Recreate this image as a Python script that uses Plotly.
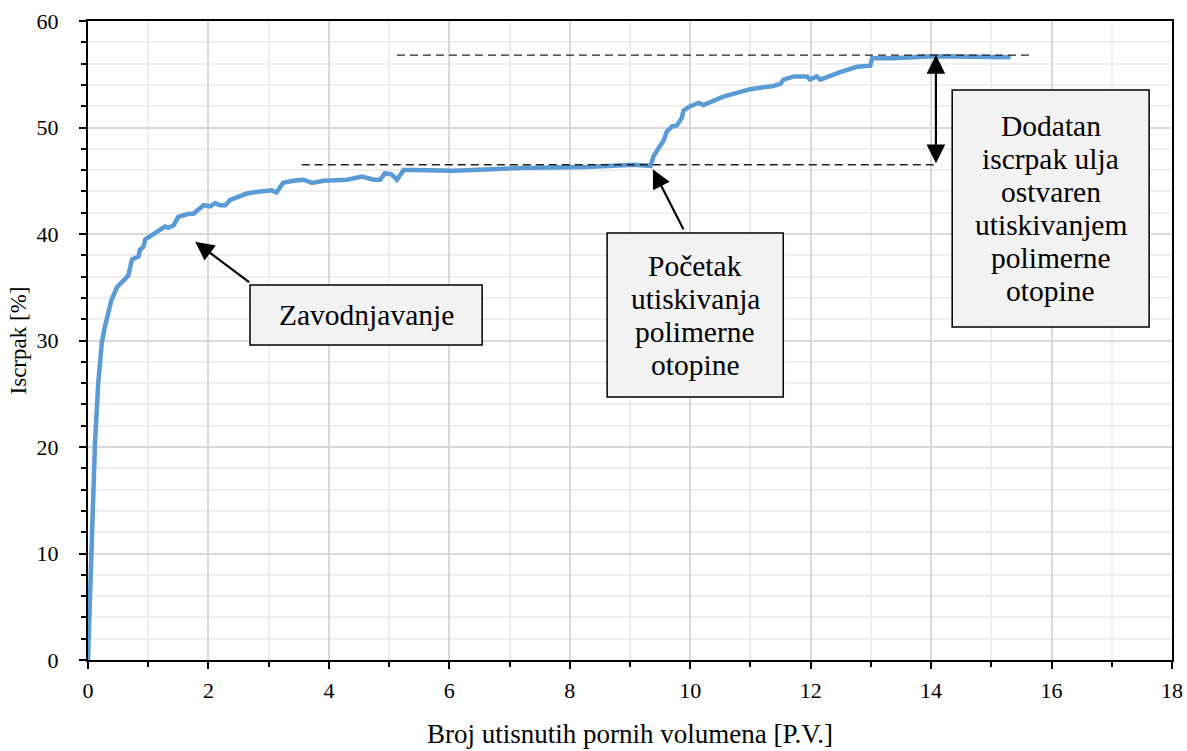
import plotly.graph_objects as go

# ---- data ----
pv = [0, 0.06, 0.116, 0.17, 0.23, 0.28, 0.34, 0.39, 0.48, 0.61, 0.67, 0.73, 0.84, 0.86,
      0.92, 0.95, 1.06, 1.22, 1.28, 1.33, 1.42, 1.50, 1.67, 1.75, 1.92, 2.03, 2.11, 2.19,
      2.28, 2.36, 2.64, 2.86, 3.05, 3.13, 3.24, 3.41, 3.58, 3.72, 3.91, 4.30, 4.55, 4.74,
      4.85, 4.93, 5.04, 5.13, 5.24, 5.40, 5.85, 6.07, 7.18, 8.28, 9.06, 9.34, 9.39, 9.47,
      9.56, 9.61, 9.70, 9.78, 9.86, 9.89, 10.0, 10.14, 10.22, 10.55, 11.0, 11.38, 11.50,
      11.55, 11.72, 11.94, 11.99, 12.10, 12.16, 12.49, 12.77, 12.99, 13.02, 13.16, 13.38,
      14.04, 15.32]
recovery = [0, 10.3, 20.4, 26.0, 29.8, 31.3, 32.9, 33.8, 35.0, 35.7, 36.1, 37.6, 37.9, 38.5,
            38.8, 39.5, 39.9, 40.4, 40.7, 40.6, 40.8, 41.6, 41.9, 41.9, 42.7, 42.6, 42.9, 42.7,
            42.7, 43.2, 43.8, 44.0, 44.1, 43.9, 44.8, 45.0, 45.1, 44.8, 45.0, 45.1, 45.4, 45.1,
            45.1, 45.7, 45.6, 45.1, 46.0, 46.0, 46.0, 45.95, 46.2, 46.3, 46.5, 46.4, 47.3, 48.0,
            48.8, 49.6, 50.1, 50.2, 50.9, 51.6, 52.0, 52.3, 52.1, 52.9, 53.6, 53.9, 54.1,
            54.5, 54.8, 54.8, 54.5, 54.8, 54.5, 55.2, 55.7, 55.8, 56.5, 56.5, 56.5,
            56.7, 56.6]

# reference levels (dashed lines): waterflood plateau and final recovery
level_values = [46.5, 56.8]
level_x_start = [3.55, 5.13]
level_x_end = [14.10, 15.68]

# annotation texts
box_texts = [
    ["Zavodnjavanje"],
    ["Početak", "utiskivanja", "polimerne", "otopine"],
    ["Dodatan", "iscrpak ulja", "ostvaren", "utiskivanjem", "polimerne", "otopine"],
]
# boxes: x0, x1, y0, y1 (data units)
box_rects = [
    (2.69, 6.545, 29.58, 35.21),
    (8.62, 11.545, 24.69, 40.09),
    (14.35, 17.62, 31.27, 53.52),
]
# arrows: head (x, y), tail (x, y)
arrow_heads = [(1.78, 39.28), (9.38, 46.07)]
arrow_tails = [(2.70, 35.37), (9.90, 40.31)]
double_arrow_x = 14.08

FONT = "Liberation Serif"
LINE_SPACING_PX = 33

fig = go.Figure()
fig.add_trace(go.Scatter(x=pv, y=recovery, mode="lines",
                         line=dict(color="#5b9bd5", width=4.5), showlegend=False,
                         hoverinfo="skip"))

# dashed reference lines
for yv, xs, xe in zip(level_values, level_x_start, level_x_end):
    fig.add_shape(type="line", xref="x", yref="y", x0=xs, x1=xe, y0=yv, y1=yv,
                  line=dict(color="#222222", width=1.3, dash="8px,5px"), layer="above")

# boxes
for (x0, x1, y0, y1), lines in zip(box_rects, box_texts):
    fig.add_shape(type="rect", xref="x", yref="y", x0=x0, x1=x1, y0=y0, y1=y1,
                  fillcolor="#f2f2f2", line=dict(color="black", width=1.5), layer="above")
    n = len(lines)
    cx = (x0 + x1) / 2
    cy = (y0 + y1) / 2
    for i, t in enumerate(lines):
        shift = ((n - 1) / 2 - i) * LINE_SPACING_PX
        fig.add_annotation(x=cx, y=cy, xref="x", yref="y", text=t, showarrow=False,
                           yshift=shift, font=dict(family=FONT, size=29.5, color="black"))

# arrows
for (hx, hy), (tx, ty) in zip(arrow_heads, arrow_tails):
    fig.add_annotation(x=hx, y=hy, ax=tx, ay=ty, xref="x", yref="y", axref="x", ayref="y",
                       text="", showarrow=True, arrowhead=2, arrowsize=1.7,
                       arrowwidth=2.2, arrowcolor="black")

# double arrow between the two levels
fig.add_annotation(x=double_arrow_x, y=level_values[1], ax=double_arrow_x, ay=level_values[0],
                   xref="x", yref="y", axref="x", ayref="y", text="", showarrow=True,
                   arrowhead=2, startarrowhead=2, arrowside="end+start", arrowsize=1.7,
                   startarrowsize=1.7, arrowwidth=2.2, arrowcolor="black")

tickfont = dict(family=FONT, size=22, color="black")

fig.update_xaxes(range=[0, 18], tick0=0, dtick=2, showgrid=True, gridcolor="#d9d9d9",
                 gridwidth=1.5, showline=True, linecolor="black", linewidth=2, mirror=True,
                 ticks="outside", ticklen=7, tickwidth=2, tickcolor="black", zeroline=False,
                 tickfont=tickfont, ticklabelstandoff=3, automargin=False,
                 minor=dict(dtick=1, ticks="outside", ticklen=5, tickwidth=1.5,
                            tickcolor="black", showgrid=True, gridcolor="#eeeeee", gridwidth=1.5),
                 title=dict(text="Broj utisnutih pornih volumena [P.V.]",
                            font=dict(family=FONT, size=27, color="black"), standoff=22))
fig.update_yaxes(range=[0, 60], tick0=0, dtick=10, showgrid=True, gridcolor="#d9d9d9",
                 gridwidth=1.5, showline=True, linecolor="black", linewidth=2, mirror=True,
                 ticks="outside", ticklen=7, tickwidth=2, tickcolor="black", zeroline=False,
                 tickfont=tickfont, ticklabelstandoff=16, automargin=False,
                 minor=dict(dtick=2, ticks="outside", ticklen=5, tickwidth=1.5,
                            tickcolor="black", showgrid=True, gridcolor="#eeeeee", gridwidth=1.5),
                 title=dict(text="Iscrpak [%]", font=dict(family=FONT, size=23, color="black"),
                            standoff=4))

fig.update_layout(width=1187, height=751, margin=dict(l=88, r=15, t=21, b=91),
                  paper_bgcolor="white", plot_bgcolor="white", showlegend=False)

# remove the default page margin so the figure fills the window exactly
fig.write_html("out.html", config={"displayModeBar": False},
               post_script="document.body.style.margin='0';document.body.style.overflow='hidden';")
